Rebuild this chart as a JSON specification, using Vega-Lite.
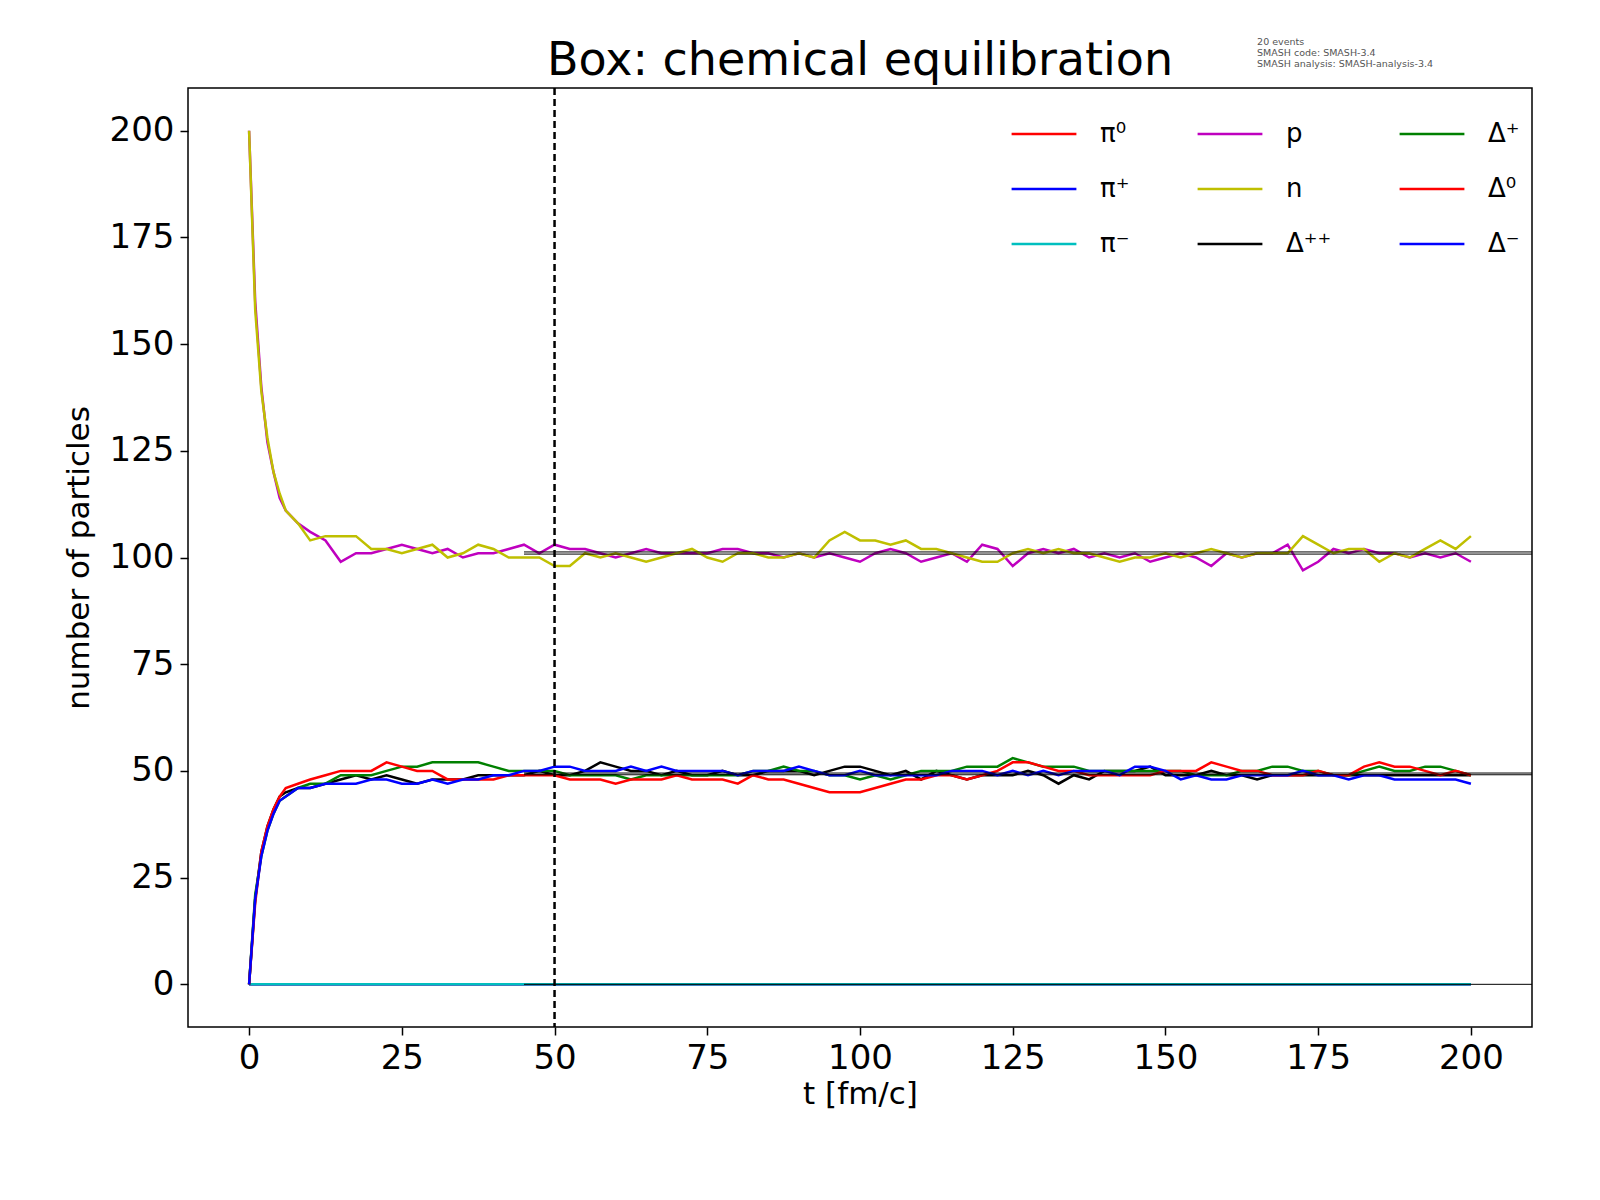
{
"$schema":"https://vega.github.io/schema/vega-lite/v6.json",
"autosize":"none","width":1344,"height":939,
"padding":{"left":188,"top":88,"right":40,"bottom":140},
"background":"white",
"config":{"font":"DejaVu Sans","view":{"stroke":"black","strokeWidth":1.5},
 "axis":{"grid":false,"domain":false,"tickColor":"black","tickSize":8,"tickWidth":1.5,"labelFontSize":34,"labelColor":"black","titleFontSize":31,"titleFontWeight":"normal","titleColor":"black","labelPadding":6}},
"datasets":{
"pions":[{"t":0,"v":0,"s":"π⁰"},{"t":200,"v":0,"s":"π⁰"},{"t":0,"v":0,"s":"π⁺"},{"t":200,"v":0,"s":"π⁺"},{"t":0,"v":0,"s":"π⁻"},{"t":200,"v":0,"s":"π⁻"}],
"eq":[{"v":0},{"v":49.1},{"v":49.5},{"v":100.8},{"v":101.3}],
"main":[
{"t":0,"p":200,"n":200,"Δ⁺⁺":0,"Δ⁺":0,"Δ⁰":0,"Δ⁻":0},
{"t":1,"p":160,"n":158,"Δ⁺⁺":20,"Δ⁺":21,"Δ⁰":19,"Δ⁻":20},
{"t":2,"p":140,"n":139,"Δ⁺⁺":31,"Δ⁺":30,"Δ⁰":31,"Δ⁻":30},
{"t":3,"p":127,"n":128,"Δ⁺⁺":37,"Δ⁺":36,"Δ⁰":37,"Δ⁻":36},
{"t":4,"p":120,"n":120,"Δ⁺⁺":41,"Δ⁺":40,"Δ⁰":41,"Δ⁻":40},
{"t":5,"p":114,"n":115,"Δ⁺⁺":44,"Δ⁺":43,"Δ⁰":44,"Δ⁻":43},
{"t":6,"p":111,"n":111,"Δ⁺⁺":45,"Δ⁺":44,"Δ⁰":46,"Δ⁻":44},
{"t":8,"p":108,"n":108,"Δ⁺⁺":46,"Δ⁺":46,"Δ⁰":47,"Δ⁻":46},
{"t":10,"p":106,"n":104,"Δ⁺⁺":46,"Δ⁺":47,"Δ⁰":48,"Δ⁻":46},
{"t":12.5,"p":104,"n":105,"Δ⁺⁺":47,"Δ⁺":47,"Δ⁰":49,"Δ⁻":47},
{"t":15,"p":99,"n":105,"Δ⁺⁺":48,"Δ⁺":49,"Δ⁰":50,"Δ⁻":47},
{"t":17.5,"p":101,"n":105,"Δ⁺⁺":49,"Δ⁺":49,"Δ⁰":50,"Δ⁻":47},
{"t":20,"p":101,"n":102,"Δ⁺⁺":48,"Δ⁺":49,"Δ⁰":50,"Δ⁻":48},
{"t":22.5,"p":102,"n":102,"Δ⁺⁺":49,"Δ⁺":50,"Δ⁰":52,"Δ⁻":48},
{"t":25,"p":103,"n":101,"Δ⁺⁺":48,"Δ⁺":51,"Δ⁰":51,"Δ⁻":47},
{"t":27.5,"p":102,"n":102,"Δ⁺⁺":47,"Δ⁺":51,"Δ⁰":50,"Δ⁻":47},
{"t":30,"p":101,"n":103,"Δ⁺⁺":48,"Δ⁺":52,"Δ⁰":50,"Δ⁻":48},
{"t":32.5,"p":102,"n":100,"Δ⁺⁺":48,"Δ⁺":52,"Δ⁰":48,"Δ⁻":47},
{"t":35,"p":100,"n":101,"Δ⁺⁺":48,"Δ⁺":52,"Δ⁰":48,"Δ⁻":48},
{"t":37.5,"p":101,"n":103,"Δ⁺⁺":49,"Δ⁺":52,"Δ⁰":48,"Δ⁻":48},
{"t":40,"p":101,"n":102,"Δ⁺⁺":49,"Δ⁺":51,"Δ⁰":48,"Δ⁻":49},
{"t":42.5,"p":102,"n":100,"Δ⁺⁺":49,"Δ⁺":50,"Δ⁰":49,"Δ⁻":49},
{"t":45,"p":103,"n":100,"Δ⁺⁺":49,"Δ⁺":50,"Δ⁰":49,"Δ⁻":50},
{"t":47.5,"p":101,"n":100,"Δ⁺⁺":50,"Δ⁺":50,"Δ⁰":49,"Δ⁻":50},
{"t":50,"p":103,"n":98,"Δ⁺⁺":49,"Δ⁺":50,"Δ⁰":49,"Δ⁻":51},
{"t":52.5,"p":102,"n":98,"Δ⁺⁺":49,"Δ⁺":49,"Δ⁰":48,"Δ⁻":51},
{"t":55,"p":102,"n":101,"Δ⁺⁺":50,"Δ⁺":49,"Δ⁰":48,"Δ⁻":50},
{"t":57.5,"p":101,"n":100,"Δ⁺⁺":52,"Δ⁺":49,"Δ⁰":48,"Δ⁻":50},
{"t":60,"p":100,"n":101,"Δ⁺⁺":51,"Δ⁺":49,"Δ⁰":47,"Δ⁻":50},
{"t":62.5,"p":101,"n":100,"Δ⁺⁺":50,"Δ⁺":48,"Δ⁰":48,"Δ⁻":51},
{"t":65,"p":102,"n":99,"Δ⁺⁺":50,"Δ⁺":49,"Δ⁰":48,"Δ⁻":50},
{"t":67.5,"p":101,"n":100,"Δ⁺⁺":49,"Δ⁺":49,"Δ⁰":48,"Δ⁻":51},
{"t":70,"p":101,"n":101,"Δ⁺⁺":50,"Δ⁺":49,"Δ⁰":49,"Δ⁻":50},
{"t":72.5,"p":101,"n":102,"Δ⁺⁺":49,"Δ⁺":49,"Δ⁰":48,"Δ⁻":50},
{"t":75,"p":101,"n":100,"Δ⁺⁺":49,"Δ⁺":49,"Δ⁰":48,"Δ⁻":50},
{"t":77.5,"p":102,"n":99,"Δ⁺⁺":50,"Δ⁺":49,"Δ⁰":48,"Δ⁻":50},
{"t":80,"p":102,"n":101,"Δ⁺⁺":49,"Δ⁺":49,"Δ⁰":47,"Δ⁻":49},
{"t":82.5,"p":101,"n":101,"Δ⁺⁺":49,"Δ⁺":50,"Δ⁰":49,"Δ⁻":50},
{"t":85,"p":101,"n":100,"Δ⁺⁺":50,"Δ⁺":50,"Δ⁰":48,"Δ⁻":50},
{"t":87.5,"p":100,"n":100,"Δ⁺⁺":50,"Δ⁺":51,"Δ⁰":48,"Δ⁻":50},
{"t":90,"p":101,"n":101,"Δ⁺⁺":50,"Δ⁺":50,"Δ⁰":47,"Δ⁻":51},
{"t":92.5,"p":100,"n":100,"Δ⁺⁺":49,"Δ⁺":50,"Δ⁰":46,"Δ⁻":50},
{"t":95,"p":101,"n":104,"Δ⁺⁺":50,"Δ⁺":49,"Δ⁰":45,"Δ⁻":49},
{"t":97.5,"p":100,"n":106,"Δ⁺⁺":51,"Δ⁺":49,"Δ⁰":45,"Δ⁻":49},
{"t":100,"p":99,"n":104,"Δ⁺⁺":51,"Δ⁺":48,"Δ⁰":45,"Δ⁻":50},
{"t":102.5,"p":101,"n":104,"Δ⁺⁺":50,"Δ⁺":49,"Δ⁰":46,"Δ⁻":49},
{"t":105,"p":102,"n":103,"Δ⁺⁺":49,"Δ⁺":48,"Δ⁰":47,"Δ⁻":49},
{"t":107.5,"p":101,"n":104,"Δ⁺⁺":50,"Δ⁺":49,"Δ⁰":48,"Δ⁻":49},
{"t":110,"p":99,"n":102,"Δ⁺⁺":48,"Δ⁺":50,"Δ⁰":48,"Δ⁻":49},
{"t":112.5,"p":100,"n":102,"Δ⁺⁺":50,"Δ⁺":50,"Δ⁰":49,"Δ⁻":49},
{"t":115,"p":101,"n":101,"Δ⁺⁺":49,"Δ⁺":50,"Δ⁰":49,"Δ⁻":50},
{"t":117.5,"p":99,"n":100,"Δ⁺⁺":48,"Δ⁺":51,"Δ⁰":48,"Δ⁻":50},
{"t":120,"p":103,"n":99,"Δ⁺⁺":49,"Δ⁺":51,"Δ⁰":49,"Δ⁻":50},
{"t":122.5,"p":102,"n":99,"Δ⁺⁺":49,"Δ⁺":51,"Δ⁰":50,"Δ⁻":49},
{"t":125,"p":98,"n":101,"Δ⁺⁺":49,"Δ⁺":53,"Δ⁰":52,"Δ⁻":50},
{"t":127.5,"p":101,"n":102,"Δ⁺⁺":50,"Δ⁺":52,"Δ⁰":52,"Δ⁻":49},
{"t":130,"p":102,"n":101,"Δ⁺⁺":49,"Δ⁺":51,"Δ⁰":51,"Δ⁻":50},
{"t":132.5,"p":101,"n":102,"Δ⁺⁺":47,"Δ⁺":51,"Δ⁰":50,"Δ⁻":49},
{"t":135,"p":102,"n":101,"Δ⁺⁺":49,"Δ⁺":51,"Δ⁰":50,"Δ⁻":50},
{"t":137.5,"p":100,"n":101,"Δ⁺⁺":48,"Δ⁺":50,"Δ⁰":49,"Δ⁻":50},
{"t":140,"p":101,"n":100,"Δ⁺⁺":50,"Δ⁺":50,"Δ⁰":49,"Δ⁻":50},
{"t":142.5,"p":100,"n":99,"Δ⁺⁺":50,"Δ⁺":50,"Δ⁰":49,"Δ⁻":49},
{"t":145,"p":101,"n":100,"Δ⁺⁺":50,"Δ⁺":50,"Δ⁰":49,"Δ⁻":51},
{"t":147.5,"p":99,"n":100,"Δ⁺⁺":51,"Δ⁺":50,"Δ⁰":49,"Δ⁻":51},
{"t":150,"p":100,"n":101,"Δ⁺⁺":49,"Δ⁺":50,"Δ⁰":50,"Δ⁻":50},
{"t":152.5,"p":101,"n":100,"Δ⁺⁺":49,"Δ⁺":50,"Δ⁰":50,"Δ⁻":48},
{"t":155,"p":100,"n":101,"Δ⁺⁺":49,"Δ⁺":49,"Δ⁰":50,"Δ⁻":49},
{"t":157.5,"p":98,"n":102,"Δ⁺⁺":50,"Δ⁺":49,"Δ⁰":52,"Δ⁻":48},
{"t":160,"p":101,"n":101,"Δ⁺⁺":49,"Δ⁺":49,"Δ⁰":51,"Δ⁻":48},
{"t":162.5,"p":100,"n":100,"Δ⁺⁺":49,"Δ⁺":50,"Δ⁰":50,"Δ⁻":49},
{"t":165,"p":101,"n":101,"Δ⁺⁺":48,"Δ⁺":50,"Δ⁰":50,"Δ⁻":49},
{"t":167.5,"p":101,"n":101,"Δ⁺⁺":49,"Δ⁺":51,"Δ⁰":49,"Δ⁻":49},
{"t":170,"p":103,"n":101,"Δ⁺⁺":49,"Δ⁺":51,"Δ⁰":49,"Δ⁻":49},
{"t":172.5,"p":97,"n":105,"Δ⁺⁺":49,"Δ⁺":50,"Δ⁰":49,"Δ⁻":50},
{"t":175,"p":99,"n":103,"Δ⁺⁺":49,"Δ⁺":50,"Δ⁰":50,"Δ⁻":49},
{"t":177.5,"p":102,"n":101,"Δ⁺⁺":49,"Δ⁺":49,"Δ⁰":49,"Δ⁻":49},
{"t":180,"p":101,"n":102,"Δ⁺⁺":49,"Δ⁺":49,"Δ⁰":49,"Δ⁻":48},
{"t":182.5,"p":102,"n":102,"Δ⁺⁺":49,"Δ⁺":50,"Δ⁰":51,"Δ⁻":49},
{"t":185,"p":101,"n":99,"Δ⁺⁺":49,"Δ⁺":51,"Δ⁰":52,"Δ⁻":49},
{"t":187.5,"p":101,"n":101,"Δ⁺⁺":49,"Δ⁺":50,"Δ⁰":51,"Δ⁻":48},
{"t":190,"p":100,"n":100,"Δ⁺⁺":49,"Δ⁺":50,"Δ⁰":51,"Δ⁻":48},
{"t":192.5,"p":101,"n":102,"Δ⁺⁺":49,"Δ⁺":51,"Δ⁰":50,"Δ⁻":48},
{"t":195,"p":100,"n":104,"Δ⁺⁺":49,"Δ⁺":51,"Δ⁰":49,"Δ⁻":48},
{"t":197.5,"p":101,"n":102,"Δ⁺⁺":49,"Δ⁺":50,"Δ⁰":50,"Δ⁻":48},
{"t":200,"p":99,"n":105,"Δ⁺⁺":49,"Δ⁺":49,"Δ⁰":49,"Δ⁻":47}
]},
"layer":[
{"data":{"name":"pions"},"mark":{"type":"line","strokeWidth":2.5},
 "encoding":{"x":{"field":"t","type":"quantitative","scale":{"domain":[-10,210],"nice":false},"axis":{"values":[0,25,50,75,100,125,150,175,200],"title":"t [fm/c]","titlePadding":4}},
  "y":{"field":"v","type":"quantitative","scale":{"domain":[-10,210],"nice":false},"axis":{"values":[0,25,50,75,100,125,150,175,200],"title":"number of particles","titlePadding":14}},
  "color":{"field":"s","type":"nominal","scale":{"domain":["π⁰","π⁺","π⁻","p","n","Δ⁺⁺","Δ⁺","Δ⁰","Δ⁻"],"range":["#ff0000","#0000ff","#00bfbf","#bf00bf","#bfbf00","#000000","#008000","#ff0000","#0000ff"]},
   "legend":{"title":null,"orient":"top-right","columns":3,"symbolType":"stroke","symbolSize":4200,"symbolStrokeWidth":2.5,"labelFontSize":26,"labelColor":"black","columnPadding":62,"rowPadding":8,"offset":12,"labelOffset":22,"labelLimit":80}}}},
{"data":{"name":"main"},"transform":[{"fold":["p","n","Δ⁺⁺","Δ⁺","Δ⁰","Δ⁻"],"as":["s","v"]}],
 "mark":{"type":"line","strokeWidth":2.5},
 "encoding":{"x":{"field":"t","type":"quantitative"},"y":{"field":"v","type":"quantitative"},"color":{"field":"s","type":"nominal"}}},
{"data":{"name":"eq"},"mark":{"type":"rule","color":"black","strokeWidth":1},
 "encoding":{"x":{"datum":45},"x2":{"datum":210},"y":{"field":"v","type":"quantitative"}}},
{"data":{"values":[{"t":50}]},"mark":{"type":"rule","color":"black","strokeWidth":2.5,"strokeDash":[7,4]},
 "encoding":{"x":{"field":"t","type":"quantitative"}}},
{"data":{"values":[{"t":100,"v":213,"label":"Box: chemical equilibration"}]},"mark":{"type":"text","align":"center","baseline":"alphabetic","fontSize":46,"color":"black","clip":false},
 "encoding":{"x":{"field":"t","type":"quantitative"},"y":{"field":"v","type":"quantitative"},"text":{"field":"label"}}},
{"data":{"values":[{"t":165,"v":222}]},"mark":{"type":"text","align":"left","baseline":"top","fontSize":9.5,"color":"#555555","clip":false,"lineHeight":11,
  "text":["20 events","SMASH code:      SMASH-3.4","SMASH analysis: SMASH-analysis-3.4"]},
 "encoding":{"x":{"field":"t","type":"quantitative"},"y":{"field":"v","type":"quantitative"}}}
]}
